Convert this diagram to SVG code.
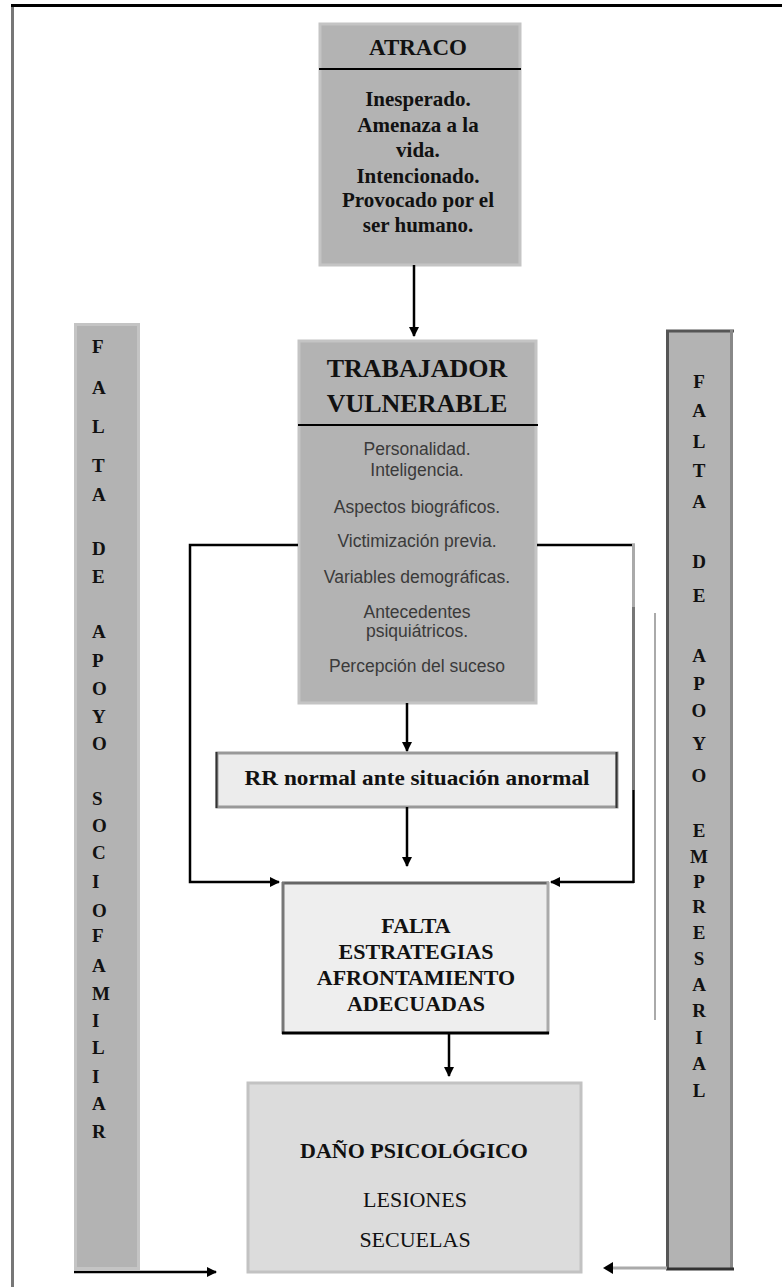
<svg xmlns="http://www.w3.org/2000/svg" width="782" height="1287" viewBox="0 0 782 1287">
<defs>
<style>
.serif{font-family:"Liberation Serif","Times New Roman",serif;fill:#111;text-anchor:middle}
.b{font-weight:bold}
.sans{font-family:"Liberation Sans",Arial,sans-serif;fill:#3a3a3a;text-anchor:middle;font-size:17.5px}
.vl{font-family:"Liberation Serif","Times New Roman",serif;font-weight:bold;font-size:19px;fill:#111}
.conn{fill:none;stroke:#000;stroke-width:2.5}
</style>
<marker id="ah" viewBox="0 0 10 10" refX="9" refY="5" markerWidth="4" markerHeight="4" orient="auto" markerUnits="strokeWidth">
<path d="M0,0 L10,5 L0,10 Z" fill="#000"/>
</marker>
</defs>
<rect width="782" height="1287" fill="#fff"/>
<!-- page frame -->
<line x1="12.5" y1="4" x2="12.5" y2="1287" stroke="#777" stroke-width="3"/>
<line x1="11" y1="5.5" x2="782" y2="5.5" stroke="#000" stroke-width="3"/>

<g id="atraco">
<rect x="320" y="24" width="200" height="241" fill="#b3b3b3" stroke="#c4c4c4" stroke-width="3"/>
<line x1="319" y1="69" x2="521" y2="69" stroke="#000" stroke-width="2"/>
<text class="serif b" x="418" y="55" font-size="23">ATRACO</text>
<g class="serif b" font-size="21">
<text x="418" y="106">Inesperado.</text>
<text x="418" y="132">Amenaza a la</text>
<text x="418" y="157">vida.</text>
<text x="418" y="183">Intencionado.</text>
<text x="418" y="207">Provocado por el</text>
<text x="418" y="232">ser humano.</text>
</g>
</g>

<g id="trabajador">
<rect x="299" y="341" width="237" height="362" fill="#b3b3b3" stroke="#c4c4c4" stroke-width="3"/>
<line x1="298" y1="425" x2="538" y2="425" stroke="#000" stroke-width="2"/>
<text class="serif b" x="417" y="377" font-size="26">TRABAJADOR</text>
<text class="serif b" x="417" y="412" font-size="26">VULNERABLE</text>
<text class="sans" x="417" y="455">Personalidad.</text>
<text class="sans" x="417" y="476">Inteligencia.</text>
<text class="sans" x="417" y="513">Aspectos biográficos.</text>
<text class="sans" x="417" y="547">Victimización previa.</text>
<text class="sans" x="417" y="583">Variables demográficas.</text>
<text class="sans" x="417" y="618">Antecedentes</text>
<text class="sans" x="417" y="637">psiquiátricos.</text>
<text class="sans" x="417" y="672">Percepción del suceso</text>
</g>

<g id="rr">
<rect x="217" y="753" width="400" height="54" fill="#ececec" stroke="#999" stroke-width="3"/>
<line x1="216.5" y1="752" x2="216.5" y2="808" stroke="#333" stroke-width="2"/>
<line x1="616.5" y1="752" x2="616.5" y2="808" stroke="#333" stroke-width="2"/>
<text class="serif b" x="417" y="785" font-size="20" textLength="345" lengthAdjust="spacingAndGlyphs">RR normal ante situación anormal</text>
</g>

<g id="falta">
<rect x="283" y="883" width="265" height="150" fill="#eeeeee"/>
<line x1="282" y1="883" x2="549" y2="883" stroke="#666" stroke-width="3"/>
<line x1="283" y1="882" x2="283" y2="1034" stroke="#777" stroke-width="3"/>
<line x1="548" y1="882" x2="548" y2="1034" stroke="#aaa" stroke-width="3"/>
<line x1="282" y1="1033" x2="549" y2="1033" stroke="#000" stroke-width="3"/>
<g class="serif b" font-size="22">
<text x="416" y="933">FALTA</text>
<text x="416" y="959">ESTRATEGIAS</text>
<text x="416" y="985">AFRONTAMIENTO</text>
<text x="416" y="1011">ADECUADAS</text>
</g>
</g>

<g id="dano">
<rect x="248" y="1083" width="333" height="189" fill="#dcdcdc" stroke="#c2c2c2" stroke-width="3"/>
<text class="serif b" x="414" y="1158" font-size="22">DAÑO PSICOLÓGICO</text>
<text class="serif" x="415" y="1207" font-size="22">LESIONES</text>
<text class="serif" x="415" y="1247" font-size="22">SECUELAS</text>
</g>

<g id="falta-apoyo-sociofamiliar">
<rect x="74" y="323" width="66" height="947" fill="#b3b3b3"/>
<rect x="75.5" y="324.5" width="63" height="944" fill="none" stroke="#c4c4c4" stroke-width="3"/>
<g class="vl">
<text x="92" y="353">F</text>
<text x="92" y="394">A</text>
<text x="92" y="433">L</text>
<text x="92" y="472">T</text>
<text x="92" y="501">A</text>
<text x="92" y="555">D</text>
<text x="92" y="583">E</text>
<text x="92" y="638">A</text>
<text x="92" y="667">P</text>
<text x="92" y="695">O</text>
<text x="92" y="723">Y</text>
<text x="92" y="750">O</text>
<text x="92" y="805">S</text>
<text x="92" y="832">O</text>
<text x="92" y="859">C</text>
<text x="92" y="888">I</text>
<text x="92" y="917">O</text>
<text x="92" y="942">F</text>
<text x="92" y="972">A</text>
<text x="92" y="1000">M</text>
<text x="92" y="1027">I</text>
<text x="92" y="1054">L</text>
<text x="92" y="1083">I</text>
<text x="92" y="1110">A</text>
<text x="92" y="1138">R</text>
</g>
</g>

<g id="falta-apoyo-empresarial">
<rect x="667" y="330" width="66" height="940" fill="#b3b3b3"/>
<line x1="667.5" y1="330" x2="667.5" y2="1270" stroke="#555" stroke-width="3"/>
<line x1="666" y1="331" x2="734" y2="331" stroke="#555" stroke-width="3"/>
<line x1="731.5" y1="330" x2="731.5" y2="1270" stroke="#888" stroke-width="3"/>
<line x1="666" y1="1269" x2="734" y2="1269" stroke="#333" stroke-width="3"/>
<g class="vl" text-anchor="middle">
<text x="699" y="388">F</text>
<text x="699" y="417">A</text>
<text x="699" y="448">L</text>
<text x="699" y="477">T</text>
<text x="699" y="508">A</text>
<text x="699" y="568">D</text>
<text x="699" y="602">E</text>
<text x="699" y="662">A</text>
<text x="699" y="690">P</text>
<text x="699" y="717">O</text>
<text x="699" y="750">Y</text>
<text x="699" y="782">O</text>
<text x="699" y="837">E</text>
<text x="699" y="863">M</text>
<text x="699" y="888">P</text>
<text x="699" y="913">R</text>
<text x="699" y="939">E</text>
<text x="699" y="965">S</text>
<text x="699" y="991">A</text>
<text x="699" y="1017">R</text>
<text x="699" y="1044">I</text>
<text x="699" y="1070">A</text>
<text x="699" y="1097">L</text>
</g>
</g>

<g id="connectors">
<line class="conn" x1="414" y1="265" x2="414" y2="336" marker-end="url(#ah)"/>
<line class="conn" x1="407" y1="703" x2="407" y2="751" marker-end="url(#ah)"/>
<line class="conn" x1="407" y1="807" x2="407" y2="866" marker-end="url(#ah)"/>
<line class="conn" x1="449" y1="1033" x2="449" y2="1076" marker-end="url(#ah)"/>
<polyline class="conn" points="298,545 190,545 190,882 279,882" marker-end="url(#ah)"/>
<line x1="537" y1="545" x2="635" y2="545" stroke="#000" stroke-width="2.5"/>
<line x1="633.5" y1="544" x2="633.5" y2="607" stroke="#aaa" stroke-width="3"/>
<line x1="633.5" y1="607" x2="633.5" y2="790" stroke="#777" stroke-width="3"/>
<line x1="633.5" y1="790" x2="633.5" y2="883" stroke="#000" stroke-width="2.5"/>
<line class="conn" x1="634" y1="882" x2="551" y2="882" marker-end="url(#ah)"/>
<line x1="655" y1="613" x2="655" y2="1020" stroke="#aaa" stroke-width="2"/>
<line class="conn" x1="74" y1="1272" x2="216" y2="1272" marker-end="url(#ah)"/>
<line x1="667" y1="1268" x2="612" y2="1268" stroke="#aaa" stroke-width="3"/>
<path d="M603,1268 L613,1262 L613,1274 Z" fill="#000"/>
</g>
</svg>
